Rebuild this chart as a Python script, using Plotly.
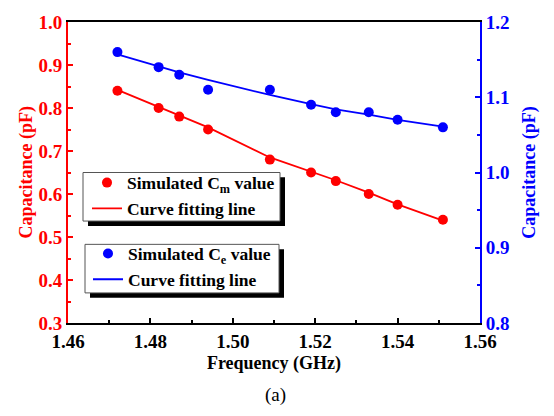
import plotly.graph_objects as go

freq = [1.472, 1.482, 1.487, 1.494, 1.509, 1.519, 1.525, 1.533, 1.540, 1.551]
cm_sim = [0.84, 0.80, 0.78, 0.75, 0.68, 0.65, 0.63, 0.60, 0.575, 0.54]
cm_fit = [0.842, 0.803, 0.783, 0.755, 0.685, 0.652, 0.632, 0.603, 0.576, 0.538]
ce_sim = [1.16, 1.14, 1.13, 1.11, 1.11, 1.09, 1.08, 1.08, 1.07, 1.06]
ce_fit = [1.157, 1.141, 1.133, 1.123, 1.103, 1.091, 1.084, 1.077, 1.070, 1.061]

FONT = "Liberation Serif"
RED = "#ff0000"
BLUE = "#0000ff"

L, R, T, B = 68, 480, 13, 323
W, H = 554, 416


def px(x):
    return (x - L) / (R - L)


def py(y):
    return (B - y) / (B - T)


fig = go.Figure()
fig.add_trace(go.Scatter(x=freq, y=cm_fit, mode="lines", line=dict(color=RED, width=1.8),
                         name="Curve fitting line", legend="legend", legendrank=2))
fig.add_trace(go.Scatter(x=freq, y=cm_sim, mode="markers",
                         marker=dict(color=RED, size=10, line=dict(width=0)),
                         name="Simulated C<sub>m</sub> value", legend="legend", legendrank=1))
fig.add_trace(go.Scatter(x=freq, y=ce_fit, mode="lines", line=dict(color=BLUE, width=1.8),
                         name="Curve fitting line", yaxis="y2", legend="legend2", legendrank=2))
fig.add_trace(go.Scatter(x=freq, y=ce_sim, mode="markers",
                         marker=dict(color=BLUE, size=10, line=dict(width=0)),
                         name="Simulated C<sub>e</sub> value", yaxis="y2", legend="legend2", legendrank=1))

shapes = []
for (x0, y0, x1, y1) in [(83, 168, 280, 218), (85, 242, 279, 292)]:
    shapes.append(dict(type="rect", xref="paper", yref="paper",
                       x0=px(x0 + 5), x1=px(x1 + 5), y0=py(y1 + 5), y1=py(y0 + 5),
                       fillcolor="black", line=dict(width=0), layer="above"))
    shapes.append(dict(type="rect", xref="paper", yref="paper",
                       x0=px(x0), x1=px(x1), y0=py(y1), y1=py(y0),
                       fillcolor="white", line=dict(color="#555555", width=1), layer="above"))

legend_common = dict(bgcolor="rgba(0,0,0,0)", borderwidth=0, xanchor="left", yanchor="top",
                     font=dict(family=FONT, size=17.5, color="black", weight="bold"),
                     tracegroupgap=0, itemwidth=30, traceorder="normal")

fig.update_layout(
    width=W, height=H,
    margin=dict(l=L, r=W - R, t=T, b=H - B),
    paper_bgcolor="white", plot_bgcolor="white",
    showlegend=True,
    shapes=shapes,
    legend=dict(x=px(87), y=py(160), **legend_common),
    legend2=dict(x=px(88), y=py(233), **legend_common),
    xaxis=dict(range=[1.46, 1.56], dtick=0.02, tick0=1.46, tickformat=".2f",
               ticks="inside", ticklen=5, tickwidth=1.5, tickcolor="black",
               minor=dict(dtick=0.01, ticks="inside", ticklen=3, tickcolor="black"),
               showline=True, linecolor="black", linewidth=2, mirror=True,
               showgrid=False, zeroline=False,
               tickfont=dict(family=FONT, size=19, color="black", weight="bold"),
               title=dict(text="Frequency (GHz)",
                          font=dict(family=FONT, size=18, color="black", weight="bold"),
                          standoff=6)),
    yaxis=dict(range=[0.3, 1.0], dtick=0.1, tickformat=".1f",
               ticks="inside", ticklen=5, tickwidth=1.5, tickcolor=RED,
               minor=dict(dtick=0.05, ticks="inside", ticklen=3, tickcolor=RED),
               showline=True, linecolor=RED, linewidth=2,
               showgrid=False, zeroline=False,
               tickfont=dict(family=FONT, size=19, color=RED, weight="bold")),
    yaxis2=dict(range=[0.8, 1.2], dtick=0.1, tickformat=".1f", overlaying="y", side="right",
                ticks="inside", ticklen=5, tickwidth=1.5, tickcolor=BLUE,
                minor=dict(dtick=0.05, ticks="inside", ticklen=3, tickcolor=BLUE),
                showline=True, linecolor=BLUE, linewidth=2,
                showgrid=False, zeroline=False,
                tickfont=dict(family=FONT, size=19, color=BLUE, weight="bold"),
                title=dict(text="Capacitance (pF)",
                           font=dict(family=FONT, size=18, color=BLUE, weight="bold"),
                           standoff=14)),
    annotations=[
        dict(text="Capacitance (pF)", xref="paper", yref="paper", x=px(26), y=0.5,
             xanchor="center", yanchor="middle", textangle=-90, showarrow=False,
             font=dict(family=FONT, size=18, color=RED, weight="bold")),
        dict(text="(a)", xref="paper", yref="paper", x=px(275), y=py(397),
             yanchor="middle", showarrow=False,
             font=dict(family=FONT, size=19, color="black")),
    ],
)

fig.write_html("out.html")
